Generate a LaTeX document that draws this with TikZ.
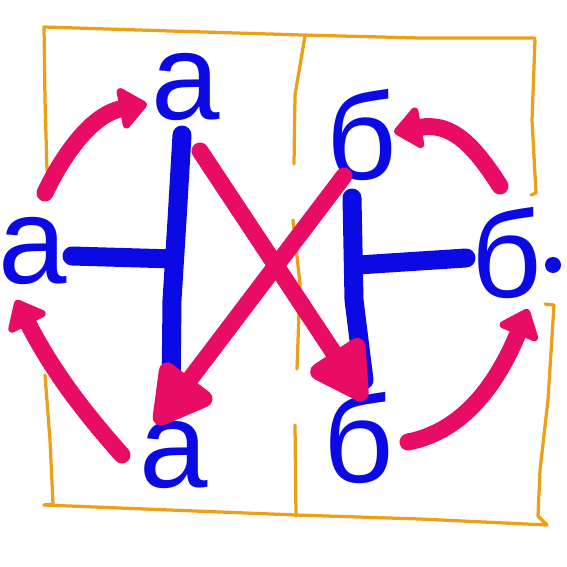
\documentclass[tikz,border=0pt]{standalone}
\usepackage{fontspec}
\setmainfont{Liberation Sans}
\usetikzlibrary{arrows.meta}
\definecolor{inkblue}{RGB}{12,10,228}
\definecolor{inkpink}{RGB}{232,12,100}
\definecolor{inkorange}{RGB}{236,160,24}
\tikzset{
  letter/.style={inner sep=0pt, text=inkblue, font=\fontsize{70}{70}\selectfont},
  frame/.style={draw=inkorange, line width=0.065cm, line cap=round, line join=round},
  bar/.style={draw=inkblue, line width=0.38cm, line cap=round, line join=round},
  swing/.style={draw=inkpink, line width=0.34cm, line cap=round,
    -{Triangle[round,length=0.6cm,width=0.95cm]}},
  swap/.style={draw=inkpink, line width=0.34cm, line cap=round,
    -{Triangle[round,length=1.35cm,width=1.4cm]}}
}

\begin{document}
\begin{tikzpicture}[x=0.02cm,y=-0.02cm]
	%%%%% START %%%%%
	\useasboundingbox (0,0) rectangle (567,567);
	
	% orange frame, drawn by hand
	\draw[frame] (44,27) -- (170,31) -- (302,35) -- (420,38) -- (535,38);
	\draw[frame] (535,40) -- (532,120) -- (536,193) -- (531,195);
	\draw[frame] (545,304) -- (554,305) -- (548,400) -- (540,470) -- (538,516) -- (547,525);
	\draw[frame] (44,505) -- (170,510) -- (296,515) -- (420,519) -- (547,525);
	\draw[frame] (44,27) -- (45,100) -- (47,171);
	\draw[frame] (45,375) -- (50,440) -- (53,504) -- (44,505);
	\draw[frame] (305,36) -- (295,95) -- (294,164);
	\draw[frame] (293,220) -- (300,284) -- (297,369);
	\draw[frame] (295,425) -- (296,516);
	
	% letters
	\node[letter] (atop) at (186,87) {а};
	\node[letter] (aleft) at (33,251) {а};
	\node[letter] (abot) at (174,455) {а};
	\node[letter] (btop) at (362,135) {б};
	\node[letter] (bright) at (507,253) {б};
	\node[letter] (bbot) at (359,438) {б};
	\fill[inkblue] (553,265) circle (8);
	
	% blue bars
	\coordinate (aup) at (182,135);
	\coordinate (adown) at (171,393);
	\coordinate (amid) at (174,259);
	\coordinate (aend) at (72,256);
	\draw[bar] (aup) -- (177,220) -- (172,300) -- (adown);
	\draw[bar] (aend) -- (amid);
	\coordinate (bup) at (352,198);
	\coordinate (bdown) at (364,380);
	\coordinate (bmid) at (358,265);
	\coordinate (bend) at (466,258);
	\draw[bar] (bup) -- (354,300) -- (bdown);
	\draw[bar] (bmid) -- (bend);
	
	% pink arrows
	\coordinate (s1) at (45,193);  \coordinate (e1) at (147,104);
	\coordinate (s2) at (122,455); \coordinate (e2) at (16,300);
	\coordinate (s3) at (500,186); \coordinate (e3) at (394,132);
	\coordinate (s4) at (408,442); \coordinate (e4) at (528,309);
	\coordinate (s5) at (200,151); \coordinate (e5) at (365,400);
	\coordinate (s6) at (344,176); \coordinate (e6) at (156,424);
	\draw[swing] (s1) .. controls (58,165) and (88,115) .. (e1);
	\draw[swing] (s2) .. controls (82,410) and (52,370) .. (e2);
	\draw[swing] (s3) .. controls (472,142) and (450,122) .. (e3);
	\draw[swing] (s4) .. controls (470,430) and (502,372) .. (e4);
	\draw[swap] (s5) -- (e5);
	\draw[swap] (s6) -- (e6);
	%%%%% END %%%%%
\end{tikzpicture}
\end{document}
